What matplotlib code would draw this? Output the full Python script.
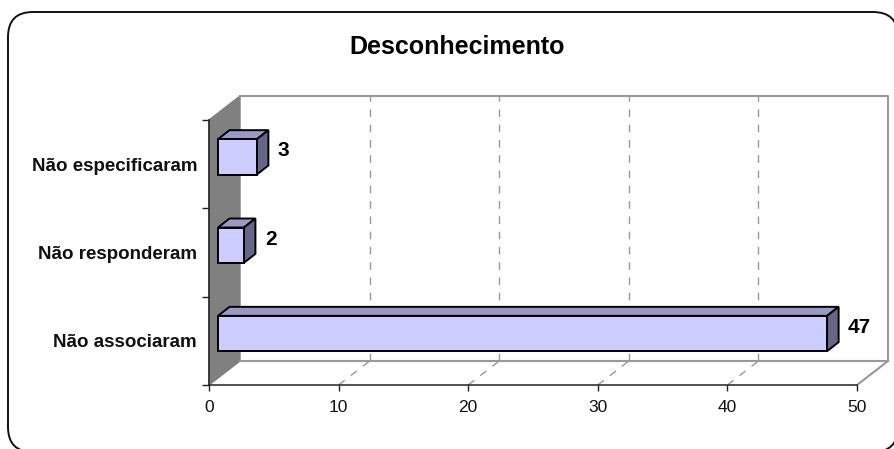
import matplotlib
matplotlib.use("Agg")
import matplotlib.pyplot as plt
from matplotlib.patches import FancyBboxPatch, Polygon
from matplotlib.transforms import IdentityTransform

plt.rcParams['font.family'] = ['Liberation Sans', 'DejaVu Sans']

title = "Desconhecimento"
categories = ["Não associaram", "Não responderam", "Não especificaram"]
values = [47, 2, 3]
x_ticks = [0, 10, 20, 30, 40, 50]

W, H = 895, 449
fig = plt.figure(figsize=(W / 100, H / 100), dpi=100)
fig.patch.set_facecolor("white")

# outer rounded frame, runs slightly off the canvas at right and bottom
frame = FancyBboxPatch((8, -3), 890, H - 12 + 3, boxstyle="round,pad=0,rounding_size=25",
                       transform=IdentityTransform(), fc="white", ec="#111111", lw=1.4, zorder=-1)
fig.add_artist(frame)

# axes = the front plane of the fake 3D box
left, right, top, bottom = 209, 857, 120, 385
ax = fig.add_axes([left / W, (H - bottom) / H, (right - left) / W, (bottom - top) / H])
ax.set_xlim(0, 50)
ax.set_ylim(0, 3)
ax.patch.set_visible(False)
for s in ax.spines.values():
    s.set_visible(False)

px_x = 50 / (right - left)
px_y = 3 / (bottom - top)
dx, dy = 31 * px_x, 24 * px_y        # depth of the box
bdx, bdy = 11.5 * px_x, 9 * px_y     # depth of a bar
start = 9 * px_x
offset = 0.083
half = 0.2

GREY = "#999999"

# left wall, floor edges, back wall
ax.add_patch(Polygon([(0, 0), (dx, dy), (dx, 3 + dy), (0, 3)], closed=True,
                     fc="#808080", ec="#808080", lw=1, clip_on=False, zorder=1))
ax.plot([dx, 50 + dx, 50 + dx, dx], [3 + dy, 3 + dy, dy, dy], color=GREY, lw=1.5,
        clip_on=False, zorder=1)
ax.plot([50, 50 + dx], [0, dy], color=GREY, lw=1.5, clip_on=False, zorder=1)

# dashed grid on the back wall and across the floor
for t in x_ticks[1:-1]:
    ax.plot([t + dx, t + dx], [dy, 3 + dy], color=GREY, lw=1, ls=(0, (5.5, 5.5)),
            clip_on=False, zorder=1)
    ax.plot([t, t + dx], [0, dy], color=GREY, lw=1, ls=(0, (5.5, 5.5)),
            clip_on=False, zorder=1)

# bars
for i, v in enumerate(values):
    c = i + 0.5 + offset
    x0, x1 = start, start + v
    y0, y1 = c - half, c + half
    ax.add_patch(Polygon([(x0, y1), (x0 + bdx, y1 + bdy), (x1 + bdx, y1 + bdy), (x1, y1)],
                         closed=True, fc="#9999C6", ec="black", lw=1.4, clip_on=False, zorder=3))
    ax.add_patch(Polygon([(x1, y0), (x1 + bdx, y0 + bdy), (x1 + bdx, y1 + bdy), (x1, y1)],
                         closed=True, fc="#666688", ec="black", lw=1.4, clip_on=False, zorder=3))
    ax.add_patch(Polygon([(x0, y0), (x1, y0), (x1, y1), (x0, y1)],
                         closed=True, fc="#CCCCFF", ec="black", lw=1.4, clip_on=False, zorder=4))
    ax.annotate(str(v), xy=(x1, c), xytext=(21, 6), textcoords="offset pixels",
                ha="left", va="center", fontsize=15, fontweight="bold", color="black",
                annotation_clip=False, zorder=5)

# front axis lines and ticks
ax.plot([0, 50], [0, 0], color="#222222", lw=1.1, clip_on=False, zorder=2)
ax.plot([0, 0], [0, 3], color="#222222", lw=1.1, clip_on=False, zorder=2)
ax.set_xticks(x_ticks)
ax.tick_params(axis="x", length=4, width=1, color="#222222", labelsize=12.5, pad=7,
               labelcolor="#111111")
ax.set_yticks([0, 1, 2, 3])
ax.set_yticklabels([])
ax.tick_params(axis="y", which="major", length=5, width=1, color="#222222")
ax.set_yticks([0.5, 1.5, 2.5], minor=True)
ax.set_yticklabels(categories, minor=True, fontsize=13.5, fontweight="bold", color="#111111")
ax.tick_params(axis="y", which="minor", length=0, pad=8.6)

fig.text(457 / W, 1 - 47 / H, title, ha="center", va="center", fontsize=18, fontweight="bold")

fig.savefig("out.png", dpi=100)
